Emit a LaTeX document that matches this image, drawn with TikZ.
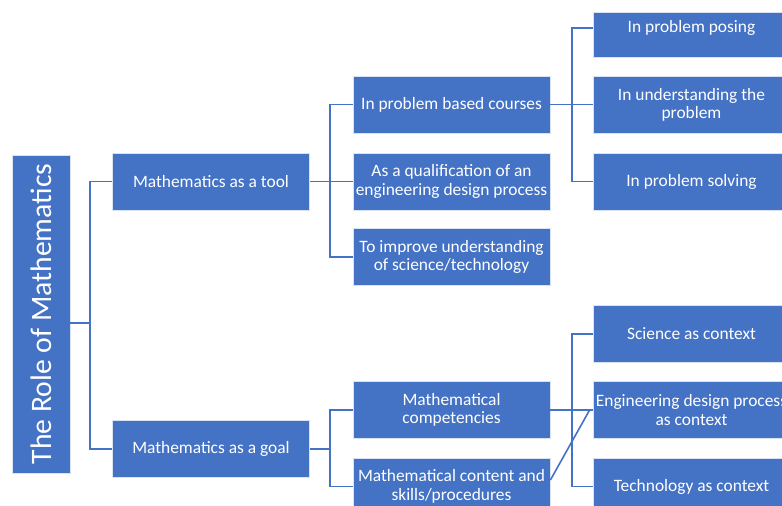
\documentclass[tikz,border=0pt]{standalone}
\usepackage{fontspec}
\setmainfont{Carlito}
\definecolor{boxblue}{HTML}{4472C4}
\begin{document}
\begin{tikzpicture}[x=1bp,y=-1bp,
  box/.style={fill=boxblue, draw=white!80!boxblue, line width=0.8bp, text=white,
    align=center, inner sep=0pt, minimum width=197bp, minimum height=57bp,
    font=\fontsize{17.4bp}{18.5bp}\selectfont},
  txt/.style={text=white, align=center, inner sep=0pt, font=\fontsize{17.4bp}{18.5bp}\selectfont},
  conn/.style={draw=boxblue, line width=1.6bp}]
\useasboundingbox (0,0) rectangle (782,506);
\clip (0,0) rectangle (782,506);
% root
\node[box, minimum width=58bp, minimum height=318bp] (root) at (41,314) {};
\node[txt, rotate=90, font=\fontsize{29.7bp}{32bp}\selectfont] (roott) at (41,314) {The Role of Mathematics};
% level 1
\node[box] (tool) at (211,181.5) {Mathematics as a tool};
\node[box] (goal) at (211,449) {Mathematics as a goal};
% level 2
\node[box] (pbc) at (451.5,104.5) {In problem based courses};
\node[box] (qual) at (451.5,181.5) {As a qualification of an\\engineering design process};
\node[box] (impr) at (451.5,257) {To improve understanding\\of science/technology};
\node[box] (comp) at (451.5,410) {Mathematical\\competencies};
\node[box] (cont) at (451.5,486.5) {Mathematical content and\\skills/procedures};
% level 3
\node[box, minimum height=45bp] (posing) at (691.5,34.5) {};
\node[txt] (posingt) at (691.5,28) {In problem posing};
\node[box] (und) at (691.5,105) {In understanding the\\problem};
\node[box] (solv) at (691.5,181.5) {In problem solving};
\node[box] (sci) at (691.5,334) {Science as context};
\node[box] (eng) at (691.5,410) {Engineering design process\\as context};
\node[box] (tech) at (691.5,486.5) {Technology as context};
% connectors
\coordinate (b0) at (90,323);
\coordinate (b1) at (330,181.5);
\coordinate (b2) at (572,104.5);
\coordinate (b3) at (330,448);
\coordinate (b4) at (572,410);
\draw[conn] (root.east |- b0) -- (b0);
\draw[conn] (tool.west) -| (b0) |- (goal.west);
\draw[conn] (tool.east) -- (qual.west);
\draw[conn] (pbc.west) -| (b1) |- (impr.west);
\draw[conn] (pbc.east) -- (pbc.east -| und.west);
\draw[conn] (posingt -| posing.west) -| (b2) |- (solv.west);
\draw[conn] (goal.east) -- (goal.east -| b3);
\draw[conn] (comp.west) -| (b3) |- (cont.west);
\draw[conn] (comp.east) -- (eng.west);
\draw[conn] (sci.west) -| (b4) |- (tech.west);
\draw[conn] ([yshift=6.5bp]cont.east) -- ([xshift=-3bp]eng.west);
\end{tikzpicture}
\end{document}
